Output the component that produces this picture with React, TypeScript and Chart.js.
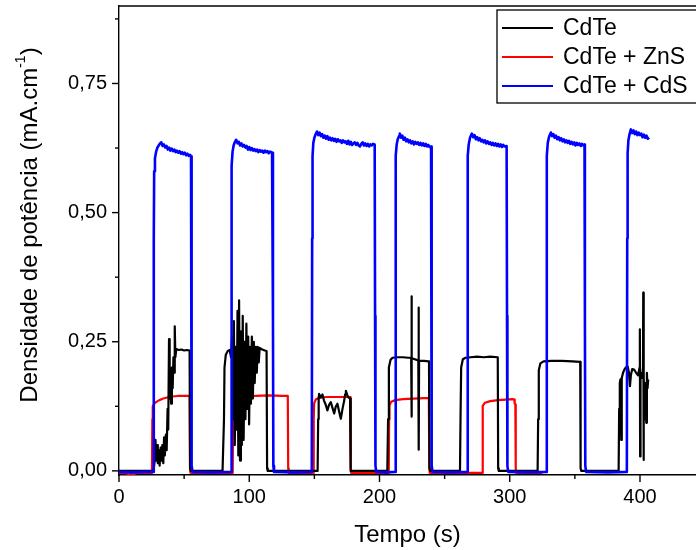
import React, { useEffect, useRef } from 'react';
import { Chart, registerables } from 'chart.js';

Chart.register(...registerables);

// ---------- data ----------
const seriesLabels = ['CdTe', 'CdTe + ZnS', 'CdTe + CdS'];
const seriesColors = ['#000000', '#FF0000', '#0000FF'];

const xTickValues = [0, 100, 200, 300, 400];
const xMinorValues = [50, 150, 250, 350];
const yTickValues = [0, 0.25, 0.5, 0.75];
const yMinorValues = [0.125, 0.375, 0.625, 0.875];

const cdteTime = [
  0, 26.5, 27.4, 28.0, 28.5, 29.2, 29.8, 30.5, 31.2, 32, 32.6, 33.3, 34, 34.6, 35.2, 36, 36.6, 37.3, 37.8, 38.4,
  38.9, 39.5, 40, 40.6, 41.2, 41.8, 42.4, 42.8, 43.3, 44, 46, 48, 50, 52, 54.2, 54.6, 55,
  79.5, 80.6, 81.0, 82, 83.5, 85, 86, 86.8, 87.5, 88.2, 88.9, 89.6, 90.3, 91, 91.6, 92.2, 92.9, 93.6, 94.3, 95,
  95.7, 96.4, 97.1, 97.8, 98.5, 99.2, 99.9, 100.6, 101.3, 102, 102.8, 103.5, 104.2, 105, 105.8, 106.5, 107.3,
  108, 110, 112, 113.3, 113.7, 114.2,
  152.5, 152.9, 153.3, 153.6, 155, 156.2, 157.4, 158.7, 160, 161.3, 162.6, 163.9, 165.2, 166.4, 167.7, 169,
  170.3, 171.6, 172.9, 173.6, 174.2, 175.2, 176.2, 177.4, 177.7, 178.1,
  206, 206.6, 207.2, 208.5, 210, 214, 218, 222, 224.3, 224.5, 224.7, 224.9, 229.8, 230, 230.2, 230.4, 234, 238,
  238.4, 239,
  261.8, 262.2, 262.7, 264, 266, 270, 275, 280, 285, 290.8, 291.1, 291.6,
  321.4, 321.8, 322.3, 323.5, 326, 332, 340, 348, 354.1, 354.4, 354.9,
  383.6, 384, 384.5, 385, 385.6, 386, 387, 388, 389, 390.6, 391.5, 392.3, 393, 394, 395.5, 397, 398.5, 399.7,
  399.9, 400.1, 400.4, 401.5, 402.3, 402.5, 402.7, 403, 403.6, 404.2, 404.8, 405.3, 405.8, 406.3,
];
const cdteValues = [
  0, 0, 0.02, 0.06, 0.02, 0.05, 0.015, 0.04, 0.01, 0.045, 0.02, 0.05, 0.015, 0.065, 0.03, 0.07, 0.04, 0.12, 0.08, 0.255,
  0.14, 0.17, 0.13, 0.2, 0.16, 0.22, 0.19, 0.28, 0.22, 0.236, 0.234, 0.235, 0.233, 0.234, 0.233, 0.005, 0,
  0, 0.1, 0.2, 0.225, 0.232, 0.234, 0.22, 0.26, 0.1, 0.29, 0.05, 0.24, 0.08, 0.31, 0.03, 0.33, 0.02, 0.27, 0.05, 0.3,
  0.06, 0.25, 0.1, 0.285, 0.12, 0.26, 0.09, 0.24, 0.13, 0.26, 0.14, 0.25, 0.17, 0.24, 0.19, 0.24, 0.21,
  0.238, 0.235, 0.233, 0.232, 0.005, 0,
  0, 0.1, 0.14, 0.149, 0.142, 0.148, 0.136, 0.128, 0.117, 0.128, 0.133, 0.122, 0.111, 0.124, 0.13, 0.115,
  0.101, 0.12, 0.136, 0.148, 0.155, 0.147, 0.142, 0.14, 0.005, 0,
  0, 0.1, 0.2, 0.215, 0.219, 0.22, 0.22, 0.219, 0.219, 0.338, 0.105, 0.218, 0.214, 0.316, 0.041, 0.213, 0.213, 0.212,
  0.005, 0,
  0, 0.1, 0.2, 0.216, 0.219, 0.22, 0.221, 0.22, 0.221, 0.22, 0.005, 0,
  0, 0.1, 0.195, 0.208, 0.212, 0.213, 0.213, 0.212, 0.211, 0.005, 0,
  0, 0.12, 0.17, 0.177, 0.06, 0.18, 0.19, 0.196, 0.2, 0.202, 0.19, 0.164, 0.185, 0.197, 0.196, 0.19, 0.185, 0.2,
  0.274, 0.028, 0.19, 0.18, 0.2, 0.345, 0.021, 0.18, 0.1, 0.17, 0.093, 0.19, 0.16, 0.177,
];

const znsTime = [
  0, 6, 8, 9, 11, 13, 20, 25.3, 25.6, 25.9, 27, 29, 31, 34, 37, 41, 45, 50, 54.2, 54.5, 54.9,
  70, 87.3, 87.6, 87.9, 89, 92, 97, 105, 115, 125, 129.6, 129.9, 130.3,
  140, 149.2, 149.5, 149.8, 151, 154, 160, 170, 177.5, 177.8, 178.2,
  195, 207.1, 207.4, 207.7, 209, 212, 218, 226, 234, 237.9, 238.2, 238.6,
  260, 278.8, 279.1, 279.4, 281, 285, 291, 297, 302, 303.5, 303.8, 304.3, 304.6, 305, 325,
];
const znsValues = [
  -0.004, -0.005, -0.009, -0.004, -0.008, -0.004, -0.004, -0.004, 0.1, 0.125, 0.13, 0.134, 0.137, 0.14, 0.142, 0.144, 0.145, 0.145, 0.145, 0.005, -0.004,
  -0.004, -0.004, 0.1, 0.13, 0.138, 0.142, 0.144, 0.145, 0.146, 0.145, 0.145, 0.005, -0.004,
  -0.004, -0.004, 0.1, 0.13, 0.138, 0.142, 0.143, 0.143, 0.143, 0.005, -0.004,
  -0.004, -0.004, 0.1, 0.127, 0.134, 0.137, 0.139, 0.14, 0.141, 0.141, 0.005, -0.004,
  -0.004, -0.004, 0.1, 0.126, 0.132, 0.135, 0.137, 0.138, 0.139, 0.138, 0.13, 0.129, 0.005, -0.004, -0.004,
];

const cdsTime = [
  0, 10, 20, 26.3, 26.7, 27.0, 27.6, 28.5, 29.5, 30.5, 31.5, 32.5, 33.5, 34.5, 35.5, 36.5, 37.5, 38.5, 39.5, 40.5,
  41.5, 42.5, 43.5, 44.5, 45.5, 46.5, 47.5, 48.5, 49.5, 50.5, 51.5, 52.5, 53.5, 54.5, 55.3, 55.6, 55.9, 56.5,
  70, 86.0, 86.3, 86.6, 87.2, 88, 89, 90, 91, 92, 93, 94, 95, 96, 97, 98, 99, 100, 101, 102, 103, 104, 105, 106,
  107, 108, 109, 110, 111, 112, 113, 114, 115, 116, 117.5, 118.2, 118.5, 119,
  135, 148.0, 148.3, 148.6, 149.2, 150, 151, 152, 153, 154, 155, 156, 157, 158, 159, 160, 161, 162, 163, 164, 165,
  166, 167, 168, 169, 170, 171, 172, 173, 174, 175, 176, 177, 178, 179, 180, 181, 182, 183, 184, 185, 186, 187,
  188, 189, 190, 191, 192, 193, 194, 195, 196.3, 196.6, 196.9, 197.5,
  205, 212.0, 212.3, 212.6, 213.2, 214, 215, 215.6, 216.5, 217.5, 218.5, 219.5, 220.5, 221.5, 222.5, 223.5, 224.5,
  225.5, 226.5, 227.5, 228.5, 229.5, 230.5, 231.5, 232.5, 233.5, 234.5, 235.5, 236.5, 237.5, 238.5, 239.6, 239.9,
  240.2, 240.8,
  255, 267.3, 267.6, 267.9, 268.5, 269.5, 270.9, 272, 273, 274, 275, 276, 277, 278, 279, 280, 281, 282, 283, 284,
  285, 286, 287, 288, 289, 290, 291, 292, 293, 294, 295, 296, 297.6, 297.9, 298.2, 298.8,
  315, 328.0, 328.3, 328.6, 329.2, 330.2, 331.6, 332.5, 333.5, 334.5, 335.5, 336.5, 337.5, 338.5, 339.5, 340.5,
  341.5, 342.5, 343.5, 344.5, 345.5, 346.5, 347.5, 348.5, 349.5, 350.5, 351.5, 352.5, 353.5, 354.5, 355.5, 356.5,
  357.4, 357.7, 358.0, 358.6,
  375, 389.9, 390.2, 390.5, 391.1, 392, 393, 394, 395, 396, 397, 398, 399, 400, 401, 402, 403, 404, 405, 406, 407.1,
];
const cdsValues = [
  -0.002, -0.003, -0.002, -0.002, 0.45, 0.58, 0.605, 0.618, 0.626, 0.63, 0.634, 0.636, 0.629, 0.632, 0.626, 0.629, 0.622, 0.626, 0.62, 0.624,
  0.619, 0.622, 0.617, 0.62, 0.616, 0.619, 0.614, 0.617, 0.613, 0.616, 0.611, 0.614, 0.61, 0.612, 0.609, 0.3, 0.01, -0.002,
  -0.003, -0.002, 0.4, 0.59, 0.618, 0.63, 0.637, 0.641, 0.634, 0.637, 0.63, 0.634, 0.628, 0.631, 0.626, 0.629, 0.622, 0.627, 0.621, 0.625, 0.62, 0.623, 0.619, 0.622,
  0.617, 0.621, 0.618, 0.62, 0.616, 0.62, 0.617, 0.619, 0.615, 0.618, 0.616, 0.3, 0.01, -0.002,
  -0.003, -0.002, 0.45, 0.61, 0.635, 0.645, 0.652, 0.657, 0.65, 0.655, 0.648, 0.652, 0.645, 0.649, 0.643, 0.648, 0.641, 0.645, 0.64, 0.644, 0.639,
  0.643, 0.637, 0.642, 0.638, 0.64, 0.635, 0.64, 0.636, 0.638, 0.633, 0.639, 0.632, 0.637, 0.631, 0.634, 0.636, 0.631, 0.635, 0.63, 0.628, 0.633, 0.636,
  0.63, 0.634, 0.629, 0.633, 0.628, 0.632, 0.63, 0.633, 0.632, 0.3, 0.01, -0.002,
  -0.003, -0.002, 0.45, 0.61, 0.632, 0.642, 0.648, 0.653, 0.645, 0.649, 0.641, 0.645, 0.638, 0.642, 0.636, 0.64, 0.634,
  0.638, 0.632, 0.637, 0.633, 0.636, 0.631, 0.635, 0.63, 0.634, 0.629, 0.633, 0.628, 0.631, 0.627, 0.628, 0.3,
  0.01, -0.002,
  -0.003, -0.002, 0.45, 0.61, 0.632, 0.645, 0.653, 0.646, 0.65, 0.642, 0.646, 0.64, 0.644, 0.638, 0.641, 0.636, 0.64, 0.634, 0.638, 0.633,
  0.636, 0.631, 0.635, 0.63, 0.634, 0.629, 0.633, 0.628, 0.632, 0.627, 0.631, 0.628, 0.629, 0.3, 0.01, -0.002,
  -0.003, -0.002, 0.45, 0.61, 0.635, 0.647, 0.655, 0.648, 0.652, 0.645, 0.649, 0.642, 0.646, 0.64, 0.644, 0.638,
  0.642, 0.636, 0.64, 0.635, 0.639, 0.633, 0.637, 0.632, 0.636, 0.63, 0.635, 0.631, 0.634, 0.629, 0.633, 0.63,
  0.632, 0.3, 0.01, -0.002,
  -0.003, -0.002, 0.45, 0.615, 0.64, 0.652, 0.661, 0.654, 0.659, 0.652, 0.657, 0.65, 0.655, 0.65, 0.653, 0.646, 0.651, 0.645, 0.649, 0.643, 0.645,
];

const xTitle = 'Tempo (s)';
const yTitleMain = 'Densidade de potência (mA.cm';
const yTitleSup = '-1';
const yTitleEnd = ')';

const FONT = "'Liberation Sans', Arial, sans-serif";

function pts(t: number[], v: number[]) {
  return t.map((x, i) => ({ x, y: v[i] }));
}

const decorPlugin = {
  id: 'decor',
  afterDraw(chart: any) {
    const { ctx, chartArea, scales } = chart;
    const xs = scales.x;
    const ys = scales.y;
    ctx.save();
    ctx.strokeStyle = '#000';
    ctx.lineWidth = 1.4;
    // top frame
    ctx.beginPath();
    ctx.moveTo(chartArea.left, chartArea.top);
    ctx.lineTo(chartArea.right, chartArea.top);
    ctx.stroke();
    // x ticks
    const b = chartArea.bottom;
    xTickValues.forEach((v) => {
      const px = xs.getPixelForValue(v);
      ctx.beginPath(); ctx.moveTo(px, b); ctx.lineTo(px, b + 7); ctx.stroke();
    });
    xMinorValues.forEach((v) => {
      const px = xs.getPixelForValue(v);
      ctx.beginPath(); ctx.moveTo(px, b); ctx.lineTo(px, b + 4); ctx.stroke();
    });
    const l = chartArea.left;
    yTickValues.forEach((v) => {
      const py = ys.getPixelForValue(v);
      ctx.beginPath(); ctx.moveTo(l, py); ctx.lineTo(l - 7, py); ctx.stroke();
    });
    yMinorValues.forEach((v) => {
      const py = ys.getPixelForValue(v);
      ctx.beginPath(); ctx.moveTo(l, py); ctx.lineTo(l - 4, py); ctx.stroke();
    });

    // y title with superscript
    ctx.fillStyle = '#000';
    const mainFont = `24px ${FONT}`;
    const supFont = `14px ${FONT}`;
    ctx.font = mainFont;
    const w1 = ctx.measureText(yTitleMain).width;
    const w3 = ctx.measureText(yTitleEnd).width;
    ctx.font = supFont;
    const w2 = ctx.measureText(yTitleSup).width;
    const total = w1 + w2 + w3;
    ctx.translate(30, 225);
    ctx.rotate(-Math.PI / 2);
    ctx.textBaseline = 'middle';
    ctx.textAlign = 'left';
    const x0 = -total / 2;
    ctx.font = mainFont;
    ctx.fillText(yTitleMain, x0, 0);
    ctx.font = supFont;
    ctx.fillText(yTitleSup, x0 + w1, -9);
    ctx.font = mainFont;
    ctx.fillText(yTitleEnd, x0 + w1 + w2, 0);
    ctx.restore();

    // legend
    ctx.save();
    ctx.strokeStyle = '#000';
    ctx.lineWidth = 1.3;
    ctx.strokeRect(497, 10, 260, 93);
    const rowY = [28, 57, 86];
    seriesLabels.forEach((lab, i) => {
      ctx.strokeStyle = seriesColors[i];
      ctx.lineWidth = 2.2;
      ctx.beginPath();
      ctx.moveTo(502, rowY[i]);
      ctx.lineTo(553, rowY[i]);
      ctx.stroke();
      ctx.fillStyle = '#000';
      ctx.font = `23px ${FONT}`;
      ctx.textBaseline = 'middle';
      ctx.textAlign = 'left';
      ctx.fillText(lab, 563, rowY[i] + 1);
    });
    ctx.restore();
  },
};

export default function App() {
  const ref = useRef<HTMLCanvasElement>(null);
  useEffect(() => {
    if (!ref.current) return;
    const chart = new Chart(ref.current, {
      type: 'line',
      data: {
        datasets: [
          { label: seriesLabels[2], data: pts(cdsTime, cdsValues), borderColor: seriesColors[2], borderWidth: 2.6, order: 0 },
          { label: seriesLabels[0], data: pts(cdteTime, cdteValues), borderColor: seriesColors[0], borderWidth: 2.2, order: 1 },
          { label: seriesLabels[1], data: pts(znsTime, znsValues), borderColor: seriesColors[1], borderWidth: 2.2, order: 2 },
        ],
      },
      plugins: [decorPlugin],
      options: {
        animation: false,
        responsive: false,
        devicePixelRatio: 1,
        layout: { padding: { top: 6, right: 0, left: 0, bottom: 0 } },
        elements: { point: { radius: 0 }, line: { tension: 0, borderJoinStyle: 'round', fill: false } },
        plugins: { legend: { display: false }, tooltip: { enabled: false } },
        scales: {
          x: {
            type: 'linear',
            min: 0,
            max: 443,
            afterBuildTicks: (s: any) => { s.ticks = xTickValues.map((v) => ({ value: v })); },
            afterFit: (s: any) => { s.height = 75; s.paddingLeft = 0; s.paddingRight = 0; },
            grid: { display: false, drawTicks: false },
            border: { display: true, color: '#000', width: 1.4 },
            ticks: { color: '#000', font: { size: 20, family: FONT }, padding: 10, maxRotation: 0, callback: (v: any) => String(v) },
            title: { display: true, text: xTitle, color: '#000', font: { size: 24, family: FONT }, padding: { top: 0, bottom: 0 } },
          },
          y: {
            type: 'linear',
            min: -0.008,
            max: 0.9,
            afterBuildTicks: (s: any) => { s.ticks = yTickValues.map((v) => ({ value: v })); },
            afterFit: (s: any) => { s.width = 119; s.paddingTop = 0; s.paddingBottom = 0; },
            grid: { display: false, drawTicks: false },
            border: { display: true, color: '#000', width: 1.4 },
            ticks: { color: '#000', font: { size: 20, family: FONT }, padding: 12, callback: (v: any) => Number(v).toFixed(2).replace('.', ',') },
          },
        },
      } as any,
    });
    return () => chart.destroy();
  }, []);
  return (
    <canvas
      ref={ref}
      width={696}
      height={550}
      style={{ position: 'fixed', left: 0, top: 0, width: 696, height: 550 }}
    />
  );
}
